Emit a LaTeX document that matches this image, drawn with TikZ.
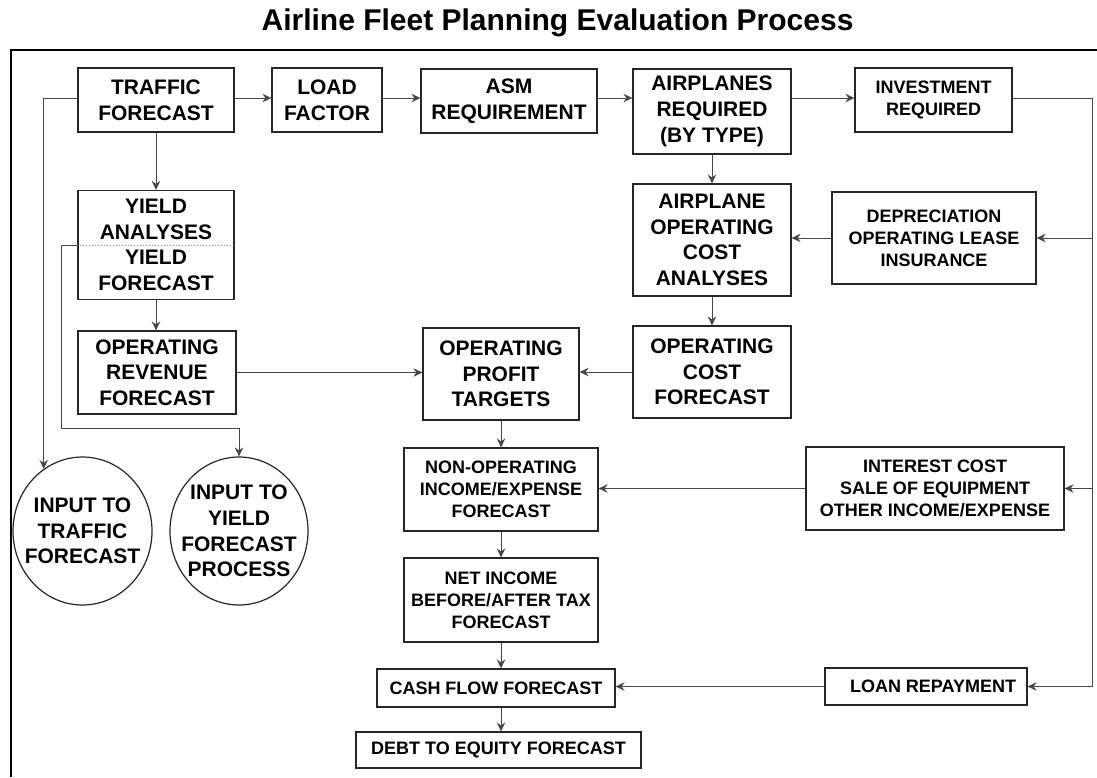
\documentclass[tikz,border=0pt]{standalone}
\usepackage{fontspec}
\setmainfont{Liberation Sans}
\usetikzlibrary{arrows.meta,shapes.geometric,calc}

% type sizes for the box labels
\newcommand\boxfontL{\fontsize{21}{25.7}\selectfont\bfseries}
\newcommand\boxfontS{\fontsize{18}{22}\selectfont\bfseries}

\begin{document}
\begin{tikzpicture}[x=1pt,y=-1pt,
  box/.style={draw=black!85,line width=1.2pt,align=center,inner xsep=2pt,inner ysep=0pt},
  big/.style={font=\boxfontL},
  small/.style={font=\boxfontS},
  circ/.style={ellipse,draw=black!85,line width=1.2pt,align=center,inner sep=-12pt,font=\boxfontL},
  conn/.style={draw=black!72,line width=1pt,-{Stealth[length=9pt,width=8.5pt,inset=3pt]}},
]
\useasboundingbox (0,0) rectangle (1097,777);

% title and frame
\node[anchor=base,font=\fontsize{30}{34}\selectfont\bfseries] (title) at (557.5,30)
  {Airline Fleet Planning Evaluation Process};
\draw[line width=2.5pt] (10,50) -- (1097,50);
\draw[line width=1.2pt] (11,50) -- (11,777);

% top row
\node[box,big,minimum width=156pt,minimum height=64pt] (traffic) at (156,100) {TRAFFIC\\FORECAST};
\node[box,big,minimum width=110pt,minimum height=64pt] (load) at (327,100) {LOAD\\FACTOR};
\node[box,big,minimum width=176pt,minimum height=64pt] (asm) at (509,101) {ASM\\REQUIREMENT};
\node[box,big,minimum width=158pt,minimum height=85pt] (planes) at (712,111.5) {AIRPLANES\\REQUIRED\\(BY TYPE)};
\node[box,small,minimum width=157pt,minimum height=64pt] (invest) at (933.5,100) {INVESTMENT\\REQUIRED};

% second row
\node[box,big,minimum width=156pt,minimum height=109pt] (yield) at (156,245) {YIELD\\ANALYSES\\YIELD\\FORECAST};
\node[box,big,minimum width=158pt,minimum height=112pt] (aoc) at (712,240) {AIRPLANE\\OPERATING\\COST\\ANALYSES};
\node[box,small,minimum width=204pt,minimum height=92pt] (depr) at (934,238) {DEPRECIATION\\OPERATING LEASE\\INSURANCE};

% third row
\node[box,big,minimum width=158pt,minimum height=83pt] (orev) at (157,372.5) {OPERATING\\REVENUE\\FORECAST};
\node[box,big,minimum width=156pt,minimum height=92pt] (opt) at (501,374) {OPERATING\\PROFIT\\TARGETS};
\node[box,big,minimum width=158pt,minimum height=92pt] (ocf) at (712,372) {OPERATING\\COST\\FORECAST};

% inputs
\node[circ,minimum width=139pt,minimum height=148pt] (circ1) at (82.5,531) {INPUT TO\\TRAFFIC\\FORECAST};
\node[circ,minimum width=138pt,minimum height=148pt] (circ2) at (239,531) {INPUT TO\\YIELD\\FORECAST\\PROCESS};

% lower chain
\node[box,small,minimum width=194pt,minimum height=83pt] (nonop) at (501,489.5) {NON-OPERATING\\INCOME/EXPENSE\\FORECAST};
\node[box,small,minimum width=258pt,minimum height=83pt] (interest) at (935,488.5) {INTEREST COST\\SALE OF EQUIPMENT\\OTHER INCOME/EXPENSE};
\node[box,small,minimum width=194pt,minimum height=84pt] (netinc) at (501,600) {NET INCOME\\BEFORE/AFTER TAX\\FORECAST};
\node[box,small,minimum width=238pt,minimum height=38pt] (cash) at (496,688) {CASH FLOW FORECAST};
\node[box,small,minimum width=202pt,minimum height=37pt] (loan) at (926,686.5) {\hspace*{14pt}LOAN REPAYMENT};
\node[box,small,minimum width=285pt,minimum height=36pt] (debt) at (498.5,750) {DEBT TO EQUITY FORECAST};

% split line inside the yield box
\draw[dotted,draw=black!50,line width=1pt] (yield.west) -- (yield.east);

% right-hand bus
\coordinate (bus) at (1092,98);

% connectors
\draw[conn] (traffic.east |- bus) -- (load.west |- bus);
\draw[conn] (load.east |- bus) -- (asm.west |- bus);
\draw[conn] (asm.east |- bus) -- (planes.west |- bus);
\draw[conn] (planes.east |- bus) -- (invest.west |- bus);
\draw[conn] (invest.east |- bus) -- (bus) |- (loan.east);
\draw[conn] (bus |- depr.east) -- (depr.east);
\draw[conn] (bus |- interest.east) -- (interest.east);
\draw[conn] (depr.west) -- (depr.west -| aoc.east);
\draw[conn] (planes.south) -- (aoc.north);
\draw[conn] (aoc.south) -- (ocf.north);
\draw[conn] (ocf.west) -- (ocf.west -| opt.east);
\draw[conn] (orev.east) -- (orev.east -| opt.west);
\draw[conn] (traffic.south) -- (yield.north);
\draw[conn] (yield.south) -- (yield.south |- orev.north);
\draw[conn] (opt.south) -- (nonop.north);
\draw[conn] (interest.west) -- (interest.west -| nonop.east);
\draw[conn] (nonop.south) -- (netinc.north);
\draw[conn] (netinc.south) -- (netinc.south |- cash.north);
\draw[conn] (loan.west) -- (loan.west -| cash.east);
\draw[conn] (netinc.south |- cash.south) -- (netinc.south |- debt.north);
\draw[conn] (traffic.west |- bus) -| (circ1.122);
\draw[conn] (yield.west) -- ++(-16,0) |- ($(circ2.north)+(0,-28)$) -- (circ2.north);
\end{tikzpicture}
\end{document}
